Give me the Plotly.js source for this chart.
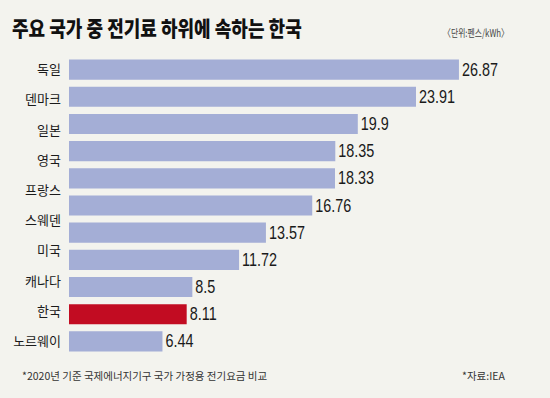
<!DOCTYPE html>
<html>
<head>
<meta charset="utf-8">
<script src="https://cdn.plot.ly/plotly-3.0.1.min.js"></script>
<style>
  html, body { margin: 0; padding: 0; background: #f3f3ee; }
  #chart { width: 550px; height: 398px; }
</style>
</head>
<body>
<div id="chart"></div>
<script>
// Data (11 bars, 10 country labels as printed)
const countryLabels = ['독일', '덴마크', '일본', '영국', '프랑스', '스웨덴', '미국', '캐나다', '한국', '노르웨이'];
const values = [26.87, 23.91, 19.9, 18.35, 18.33, 16.76, 13.57, 11.72, 8.5, 8.11, 6.44];
const valueLabels = ['26.87', '23.91', '19.9', '18.35', '18.33', '16.76', '13.57', '11.72', '8.5', '8.11', '6.44'];
const highlightValue = 8.11;

const BLUE = '#a4aed6';
const RED = '#c20c22';

const idx = values.map((_, i) => i);
const colors = values.map(v => v === highlightValue ? RED : BLUE);
// labels are spread evenly across the bar span, as in the printed graphic
const tickPos = countryLabels.map((_, i) => i * (values.length - 1) / (countryLabels.length - 1));

const trace = {
  type: 'bar',
  orientation: 'h',
  x: values,
  y: idx,
  width: 0.74,
  marker: { color: colors, line: { width: 0 } },
  text: valueLabels,
  textposition: 'outside',
  constraintext: 'none',
  cliponaxis: false,
  outsidetextfont: { family: '"Liberation Sans", Arial, sans-serif', size: 18, color: '#1a1a1a' },
  hoverinfo: 'none'
};

const layout = {
  width: 550,
  height: 398,
  paper_bgcolor: '#f3f3ee',
  plot_bgcolor: 'rgba(0,0,0,0)',
  margin: { l: 69.4, r: 10, t: 56, b: 43.4 },
  showlegend: false,
  title: {
    text: '주요 국가 중 전기료 하위에 속하는 한국',
    font: { family: '"Noto Sans CJK KR", sans-serif', size: 21, weight: 900, color: '#111111' },
    x: 12 / 550, xanchor: 'left',
    y: 1 - 28.5 / 398, yanchor: 'middle',
    xref: 'container', yref: 'container'
  },
  xaxis: {
    range: [0, 470.6 / 14.5],
    showgrid: false, zeroline: false, showline: false,
    showticklabels: false, ticks: '', fixedrange: true
  },
  yaxis: {
    range: [values.length - 0.5, -0.5],
    tickmode: 'array',
    tickvals: tickPos,
    ticktext: countryLabels,
    tickfont: { family: '"Noto Sans CJK KR", sans-serif', size: 13, color: '#1a1a1a' },
    ticklabelstandoff: 7,
    showgrid: false, zeroline: false, showline: false, ticks: '', fixedrange: true
  },
  annotations: [
    {
      text: '〈단위:펜스/kWh〉',
      xref: 'paper', yref: 'paper',
      x: (441 - 69.4) / 470.6, xanchor: 'left',
      y: 1 + (56 - 33) / 298.6, yanchor: 'middle',
      showarrow: false,
      font: { family: '"Noto Sans CJK KR", sans-serif', size: 10.5, color: '#444444' }
    },
    {
      text: '*2020년 기준 국제에너지기구 국가 가정용 전기요금 비교',
      xref: 'paper', yref: 'paper',
      x: (20 - 69.4) / 470.6, xanchor: 'left',
      y: -(375 - 354.6) / 298.6, yanchor: 'middle',
      showarrow: false,
      font: { family: '"Noto Sans CJK KR", sans-serif', size: 10.5, color: '#333333' }
    },
    {
      text: '*자료:IEA',
      xref: 'paper', yref: 'paper',
      x: (507 - 69.4) / 470.6, xanchor: 'right',
      y: -(375 - 354.6) / 298.6, yanchor: 'middle',
      showarrow: false,
      font: { family: '"Noto Sans CJK KR", sans-serif', size: 10.5, color: '#333333' }
    }
  ]
};

function condense(el, k) {
  const bb = el.getBBox();
  const prev = el.getAttribute('transform') || '';
  el.setAttribute('transform', prev + ' translate(' + (bb.x * (1 - k)) + ',0) scale(' + k + ',1)');
}

Plotly.newPlot('chart', [trace], layout, { displayModeBar: false, staticPlot: true }).then(gd => {
  // the print uses narrow faces: condense horizontally while keeping each text's left edge
  gd.querySelectorAll('.bartext').forEach(t => condense(t, 0.8));
  const title = gd.querySelector('.gtitle');
  if (title) {
    const w = title.getBBox().width;
    if (w > 0) condense(title, Math.min(1, 290 / w));
  }
  const unit = gd.querySelector('.annotation[data-index="0"] .annotation-text');
  if (unit) {
    const w = unit.getBBox().width;
    if (w > 0) condense(unit, Math.min(1, 66 / w));
  }
});
</script>
</body>
</html>
